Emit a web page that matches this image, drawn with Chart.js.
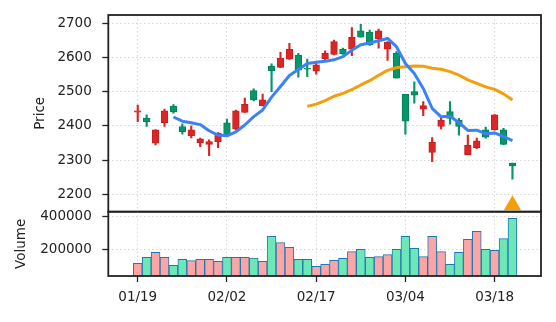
<!DOCTYPE html>
<html>
<head>
<meta charset="utf-8">
<script src="https://cdn.jsdelivr.net/npm/chart.js@4/dist/chart.umd.min.js"></script>
<style>
  html, body { margin: 0; padding: 0; background: #fff; }
  #wrap { position: relative; width: 556px; height: 322px; }
  #wrap canvas { position: absolute; left: 0; top: 0; }
</style>
</head>
<body>
<div id="wrap">
  <canvas id="priceChart" width="556" height="322"></canvas>
  <canvas id="volChart" width="556" height="322"></canvas>
</div>
<script>
// trading days, one per candle
const dates = ['01/19','01/20','01/21','01/22','01/25','01/26','01/27','01/28','01/29','02/01',
               '02/02','02/03','02/04','02/05','02/08','02/09','02/10','02/11','02/12','02/16',
               '02/17','02/18','02/19','02/22','02/23','02/24','02/25','02/26','03/02','03/03',
               '03/04','03/05','03/08','03/09','03/10','03/11','03/12','03/15','03/16','03/17',
               '03/18','03/19','03/22'];

const opens  = [2440,2423,2349,2409,2458,2398,2371,2351,2346,2354,
                2409,2390,2439,2503,2459,2575,2571,2595,2607,2568,
                2560,2596,2609,2624,2624,2678,2674,2654,2624,2612,
                2492,2500,2449,2322,2398,2442,2417,2316,2336,2388,
                2388,2388,2291];
const highs  = [2461,2432,2389,2449,2462,2406,2400,2364,2359,2380,
                2420,2446,2481,2508,2493,2581,2615,2641,2612,2595,
                2583,2619,2651,2627,2687,2697,2680,2683,2646,2617,
                2492,2529,2471,2366,2427,2471,2422,2373,2364,2396,
                2433,2393,2291];
const lows   = [2412,2398,2344,2398,2437,2376,2365,2339,2313,2336,
                2372,2388,2439,2473,2458,2500,2570,2594,2542,2544,
                2551,2593,2607,2609,2605,2659,2635,2627,2591,2539,
                2376,2466,2430,2295,2391,2405,2373,2316,2333,2364,
                2387,2345,2244];
const closes = [2444,2412,2388,2444,2441,2383,2388,2362,2354,2378,
                2373,2444,2463,2476,2476,2561,2598,2624,2563,2566,
                2578,2612,2646,2610,2659,2659,2637,2678,2644,2539,
                2414,2490,2459,2352,2417,2422,2398,2343,2356,2367,
                2432,2346,2283];
const volumes = [116000,152000,182000,152000,104000,140000,132000,140000,140000,128000,
                 152000,152000,152000,148000,128000,278000,240000,212000,140000,140000,
                 98000,110000,134000,146000,186000,200000,152000,156000,168000,200000,
                 278000,206000,156000,278000,186000,110000,182000,260000,308000,200000,
                 194000,264000,386000];

// moving averages (5 and 20 sessions)
const ma5 = [null,null,null,null,2425.8,2413.6,2408.8,2403.6,2385.6,2373.0,
             2371.0,2382.2,2402.4,2426.8,2446.4,2484.0,2514.8,2547.0,2564.4,2582.4,
             2585.8,2588.6,2593.0,2602.4,2621.0,2637.2,2642.2,2648.6,2655.4,2631.4,
             2582.4,2553.0,2509.2,2450.8,2426.4,2428.0,2409.6,2386.4,2387.2,2377.2,
             2379.2,2368.8,2356.8];
const ma20 = [null,null,null,null,null,null,null,null,null,null,
              null,null,null,null,null,null,null,null,null,2456.9,
              2463.6,2473.6,2486.5,2494.8,2505.7,2519.5,2532.0,2547.8,2562.3,2570.3,
              2572.4,2574.7,2574.5,2568.3,2565.3,2558.4,2548.4,2534.3,2524.0,2514.0,
              2506.7,2493.4,2475.3];

// buy signal marker
const signalIdx = [42];
const signalPrice = [2168];

// axis ticks
const dateTicks = [0, 10, 20, 30, 40];
const priceTicks = [2200, 2300, 2400, 2500, 2600, 2700];
const volumeTicks = [200000, 400000];

const UP = '#dc2626', UP_EDGE = '#c81e1e';
const DOWN = '#059669', DOWN_EDGE = '#04805a';
const VOL_UP = '#fca5a5', VOL_DOWN = '#6ee7b7';
const INK = '#222222';
const FONT = { family: 'DejaVu Sans', size: 13.5 };

const isUp = closes.map((c, i) => c >= opens[i]);

const AREA_LEFT = 108.3, AREA_RIGHT = 541;
const X_MIN = -3.3, X_MAX = 45.2;

const framePlugin = {
  id: 'frame',
  afterDatasetsDraw(chart) {
    const { ctx, chartArea: a } = chart;
    ctx.save();
    ctx.strokeStyle = INK;
    ctx.lineWidth = 1.8;
    ctx.strokeRect(a.left, a.top, a.right - a.left, a.bottom - a.top);
    ctx.restore();
  }
};

function gridOpts(drawTicks) {
  return {
    color: '#d6d6d6',
    lineWidth: 1,
    drawTicks: drawTicks,
    tickLength: 6,
    tickColor: INK,
    tickWidth: 1.3,
    tickBorderDash: []
  };
}

function xScale(showLabels, height) {
  return {
    type: 'linear',
    min: X_MIN,
    max: X_MAX,
    offset: false,
    grid: Object.assign(gridOpts(showLabels), { offset: false }),
    border: { display: false, dash: [1.5, 2.5] },
    afterBuildTicks: s => { s.ticks = dateTicks.map(v => ({ value: v })); },
    afterFit: s => { s.height = height; s.paddingLeft = 0; s.paddingRight = 0; },
    ticks: {
      display: showLabels,
      padding: 7,
      color: INK,
      font: FONT,
      maxRotation: 0,
      autoSkip: false,
      callback: v => dates[v]
    }
  };
}

function yScale(min, max, tickList, title, titlePad) {
  return {
    type: 'linear',
    position: 'left',
    min: min,
    max: max,
    grid: gridOpts(true),
    border: { display: false, dash: [1.5, 2.5] },
    afterBuildTicks: s => { s.ticks = tickList.map(v => ({ value: v })); },
    afterFit: s => { s.width = AREA_LEFT; s.paddingTop = 0; s.paddingBottom = 0; },
    ticks: { padding: 10.5, color: INK, font: FONT, callback: v => String(v) },
    title: { display: true, text: title, color: INK, font: FONT, padding: { top: titlePad, bottom: 0 } }
  };
}

const common = {
  responsive: false,
  animation: false,
  devicePixelRatio: 1,
  plugins: { legend: { display: false }, tooltip: { enabled: false } }
};

// price panel: candles, moving averages, signal
new Chart(document.getElementById('priceChart'), {
  type: 'bar',
  data: {
    datasets: [
      {
        type: 'line',
        data: ma5.map((v, i) => ({ x: i, y: v })),
        borderColor: '#3b82f6',
        borderWidth: 3,
        pointRadius: 0,
        borderJoinStyle: 'round',
        order: 0
      },
      {
        type: 'line',
        data: ma20.map((v, i) => ({ x: i, y: v })),
        borderColor: '#f59e0b',
        borderWidth: 3,
        pointRadius: 0,
        borderJoinStyle: 'round',
        order: 0
      },
      {
        type: 'scatter',
        data: signalIdx.map((x, k) => ({ x: x, y: signalPrice[k] })),
        pointStyle: 'triangle',
        pointRadius: 10,
        backgroundColor: '#f59e0b',
        borderWidth: 0,
        order: 0
      },
      {
        // wicks
        data: lows.map((l, i) => ({ x: i, y: [l, highs[i]] })),
        backgroundColor: isUp.map(u => u ? UP : DOWN),
        borderWidth: 0,
        barThickness: 1.5,
        grouped: false,
        order: 2
      },
      {
        // bodies
        data: opens.map((o, i) => ({ x: i, y: [o, closes[i]] })),
        backgroundColor: isUp.map(u => u ? UP : DOWN),
        borderColor: isUp.map(u => u ? UP_EDGE : DOWN_EDGE),
        borderWidth: 1,
        borderSkipped: false,
        barThickness: 6.7,
        grouped: false,
        order: 1
      }
    ]
  },
  options: Object.assign({}, common, {
    layout: { padding: { top: 15, right: 556 - AREA_RIGHT, bottom: 322 - 211.7, left: 0 } },
    scales: {
      x: xScale(false, 0),
      y: yScale(2149, 2724, priceTicks, 'Price', 32)
    }
  }),
  plugins: [framePlugin]
});

// volume panel
new Chart(document.getElementById('volChart'), {
  type: 'bar',
  data: {
    datasets: [{
      data: volumes.map((v, i) => ({ x: i, y: v })),
      backgroundColor: isUp.map(u => u ? VOL_UP : VOL_DOWN),
      borderColor: '#1f77b4',
      borderWidth: 1,
      borderSkipped: false,
      barThickness: 8.9,
      grouped: false
    }]
  },
  options: Object.assign({}, common, {
    layout: { padding: { top: 211.7, right: 556 - AREA_RIGHT, bottom: 0, left: 0 } },
    scales: {
      x: xScale(true, 322 - 276),
      y: yScale(40000, 426000, volumeTicks, 'Volume', 13)
    }
  }),
  plugins: [framePlugin]
});
</script>
</body>
</html>
